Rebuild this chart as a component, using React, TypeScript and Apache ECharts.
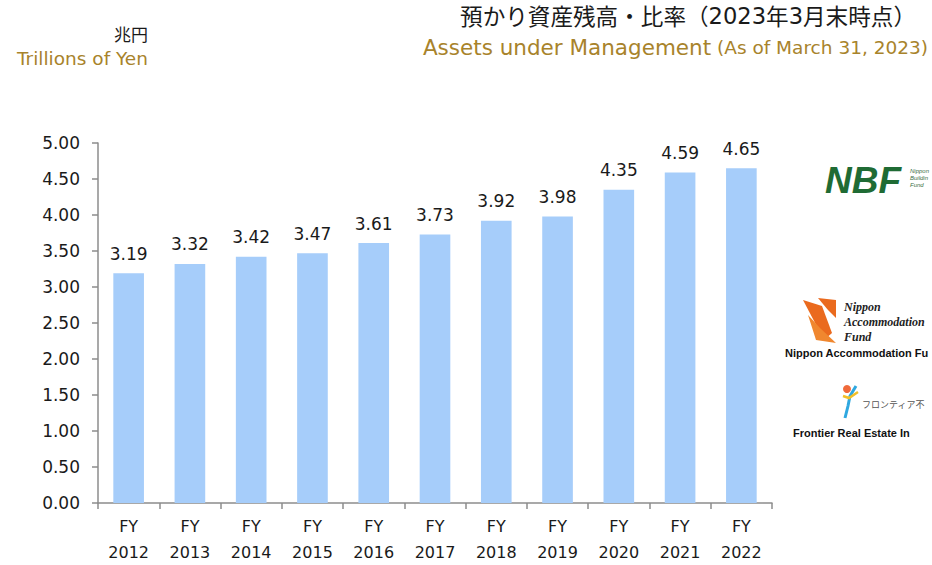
import React, { useEffect, useRef } from "react";
import * as echarts from "echarts";

const categories = ["FY\n2012", "FY\n2013", "FY\n2014", "FY\n2015", "FY\n2016", "FY\n2017", "FY\n2018", "FY\n2019", "FY\n2020", "FY\n2021", "FY\n2022"];
const assets = [3.19, 3.32, 3.42, 3.47, 3.61, 3.73, 3.92, 3.98, 4.35, 4.59, 4.65];
const yTicks = { min: 0, max: 5, interval: 0.5 };

const titleJa = "預かり資産残高・比率";
const titleJaNoteParts = ["（", "2023", "年", "3", "月末時点）"];
const titleEn = "Assets under Management";
const titleEnNote = "(As of March 31, 2023)";
const unitJa = "兆円";
const unitEn = "Trillions of Yen";

const GOLD = "#a8832b";
const TXT = "#1a1a1a";
const FONT = "DejaVu Sans, Verdana, sans-serif";
const CJK = "Noto Sans CJK JP, sans-serif";

export default function App() {
  const ref = useRef<HTMLDivElement>(null);
  useEffect(() => {
    const chart = echarts.init(ref.current!, null, { renderer: "svg" });
    const p = titleJaNoteParts;
    const option: any = {
      animation: false,
      backgroundColor: "#ffffff",
      grid: { left: 98, top: 143, width: 674, height: 361, containLabel: false },
      xAxis: {
        type: "category",
        data: categories,
        axisLine: { lineStyle: { color: "#8c8c8c", width: 1.5 } },
        axisTick: { show: true, alignWithLabel: false, length: 6, lineStyle: { color: "#8c8c8c", width: 1.5 } },
        axisLabel: { color: TXT, fontSize: 16, fontFamily: FONT, lineHeight: 26, margin: 10 },
      },
      yAxis: {
        type: "value",
        min: yTicks.min,
        max: yTicks.max,
        interval: yTicks.interval,
        splitLine: { show: false },
        axisLine: { show: true, lineStyle: { color: "#8c8c8c", width: 1.5 } },
        axisTick: { show: true, length: 6, lineStyle: { color: "#8c8c8c", width: 1.5 } },
        axisLabel: { color: TXT, fontSize: 17, fontFamily: FONT, margin: 18, formatter: (v: number) => v.toFixed(2) },
      },
      series: [
        {
          type: "bar",
          data: assets,
          barWidth: "50%",
          itemStyle: { color: "#a6cdfa" },
          label: {
            show: true,
            position: "top",
            distance: 11,
            color: TXT,
            fontSize: 17,
            fontFamily: FONT,
            formatter: (q: any) => q.value.toFixed(2),
          },
        },
      ],
      graphic: [
        {
          type: "text",
          right: 16,
          top: 4,
          style: {
            text: "{a|" + titleJa + "}{a|" + p[0] + "}{d|" + p[1] + "}{a|" + p[2] + "}{d|" + p[3] + "}{a|" + p[4] + "}",
            rich: {
              a: { fontSize: 22.6, fontFamily: CJK, fill: TXT },
              d: { fontSize: 22.6, fontFamily: FONT, fill: TXT },
            },
          },
        },
        {
          type: "text",
          right: 4,
          top: 36,
          style: {
            text: "{a|" + titleEn + "}{b| " + titleEnNote + "}",
            rich: {
              a: { fontSize: 21.5, fontFamily: FONT, fill: GOLD },
              b: { fontSize: 18.5, fontFamily: FONT, fill: GOLD },
            },
          },
        },
        {
          type: "text",
          x: 148,
          y: 25,
          style: { text: unitJa, fontSize: 17, fontFamily: CJK, fill: TXT, align: "right" },
        },
        {
          type: "text",
          x: 17,
          y: 49,
          style: { text: unitEn, fontSize: 18.5, fontFamily: FONT, fill: GOLD },
        },
        // NBF logo
        {
          type: "text",
          x: 825,
          y: 162,
          style: { text: "NBF", fontSize: 37, fontWeight: "bold", fontStyle: "italic", fontFamily: "Liberation Sans, Arial, sans-serif", fill: "#1f6b34" },
        },
        {
          type: "text",
          x: 910,
          y: 167,
          style: { text: "Nippon\nBuilding\nFund", fontSize: 6, lineHeight: 7, fontStyle: "italic", fontFamily: "Liberation Sans, sans-serif", fill: "#3b6e45", width: 21, overflow: "truncate", ellipsis: "" },
        },
        // Nippon Accommodation Fund logo
        {
          type: "polygon",
          shape: { points: [[803, 300], [822, 306], [832, 333], [824, 340]] },
          style: { fill: "#ea6a1e" },
        },
        {
          type: "polygon",
          shape: { points: [[808, 315], [816, 340], [836, 343], [820, 328]] },
          style: { fill: "#f0872f" },
        },
        {
          type: "polygon",
          shape: { points: [[818, 298], [836, 300], [836, 318], [828, 310]] },
          style: { fill: "#ea6a1e" },
        },
        {
          type: "text",
          x: 844,
          y: 299,
          style: { text: "Nippon\nAccommodation\nFund", fontSize: 12, lineHeight: 15, fontStyle: "italic", fontWeight: "bold", fontFamily: "Liberation Serif, serif", fill: "#222", width: 87, overflow: "truncate", ellipsis: "" },
        },
        {
          type: "text",
          x: 785,
          y: 347,
          style: { text: "Nippon Accommodation Fund", fontSize: 11, fontWeight: "bold", fontFamily: "Liberation Sans, Arial, sans-serif", fill: "#111", width: 146, overflow: "truncate", ellipsis: "" },
        },
        // Frontier logo
        {
          type: "circle",
          shape: { cx: 847, cy: 389, r: 4 },
          style: { fill: "#f06a3a" },
        },
        {
          type: "polyline",
          shape: { points: [[856, 386], [850, 396], [848, 406], [845, 418]] },
          style: { stroke: "#2fa8e0", lineWidth: 3, fill: "none" },
        },
        {
          type: "polyline",
          shape: { points: [[843, 396], [849, 398], [858, 392]] },
          style: { stroke: "#f2c028", lineWidth: 2.5, fill: "none" },
        },
        {
          type: "text",
          x: 862,
          y: 400,
          style: { text: "フロンティア不動産投資法人", fontSize: 9, fontFamily: CJK, fill: "#555", width: 69, overflow: "truncate", ellipsis: "" },
        },
        {
          type: "text",
          x: 793,
          y: 427,
          style: { text: "Frontier Real Estate Investment", fontSize: 11, fontWeight: "bold", fontFamily: "Liberation Sans, Arial, sans-serif", fill: "#111", width: 138, overflow: "truncate", ellipsis: "" },
        },
      ],
    };
    chart.setOption(option);
    return () => chart.dispose();
  }, []);
  return <div ref={ref} style={{ position: "fixed", left: 0, top: 0, width: 932, height: 565 }} />;
}
